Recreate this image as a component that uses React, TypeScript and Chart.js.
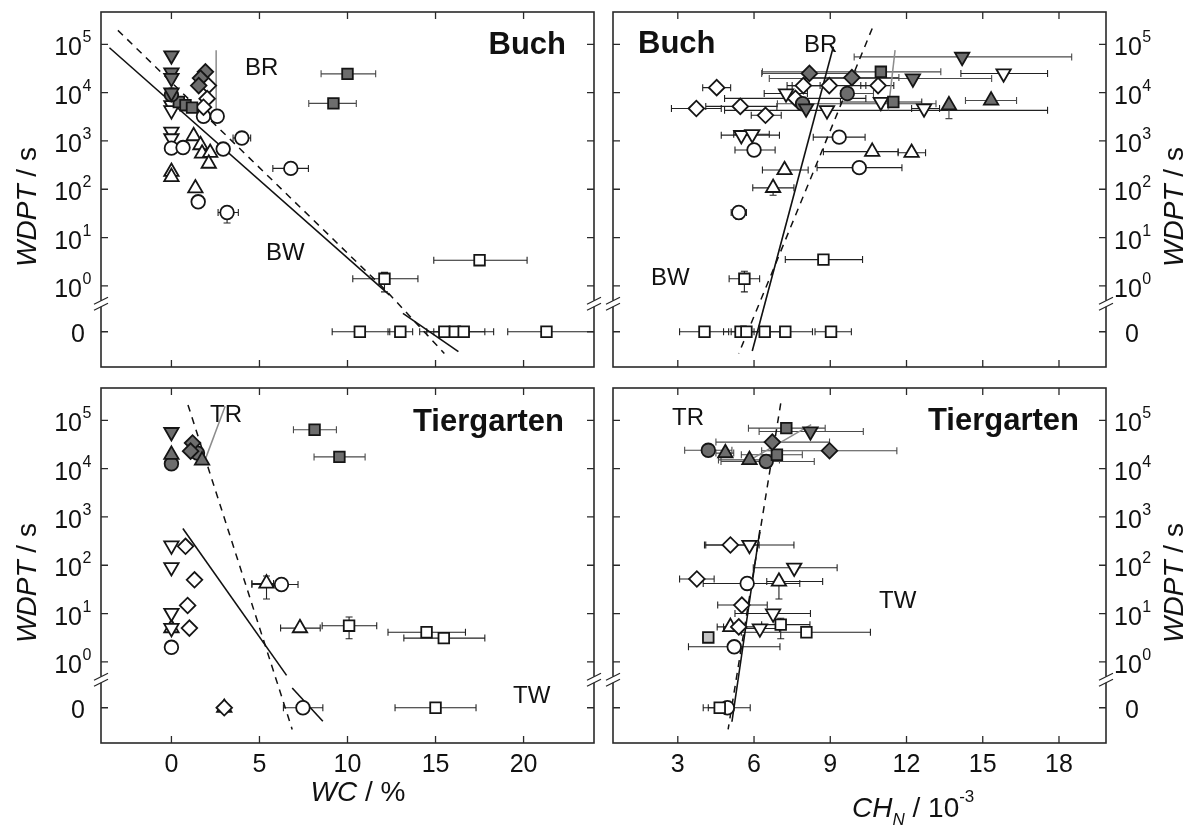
import React, { useEffect, useRef } from "react";
import { Chart, registerables } from "chart.js";
Chart.register(...registerables);

const FONT = '"Liberation Sans", Arial, Helvetica, sans-serif';
const W = 1187;
const H = 825;

// ---- axis layout values (log10 positions, zero row placed below the break) ----
const Y_MIN = -1.68;
const Y_MAX = 5.67;
const ZERO_POS = -0.95;
const BREAK_POS = -0.37;
const DECADES = [0, 1, 2, 3, 4, 5];
const WC_TICKS = [0, 5, 10, 15, 20];
const CH_TICKS = [3, 6, 9, 12, 15, 18];
const WC_RANGE = [-4, 24];
const CH_RANGE = [0.45, 19.85];

type P = (number | null)[]; // [x, WDPT, xLow, xHigh, yLow, yHigh]

// ================= Buch, WC =================
const BUCH_WC_GRAY_DOWN: P[] = [[0, 59000], [0, 26000], [0, 20000], [0, 10000]];
const BUCH_WC_GRAY_SQUARE: P[] = [[10.0, 24500, 8.5, 11.6], [9.2, 6000, 7.8, 10.5], [0.42, 6400], [0.8, 5500], [1.17, 4900]];
const BUCH_WC_GRAY_CIRCLE: P[] = [[0, 9000]];
const BUCH_WC_GRAY_DIAMOND: P[] = [[1.93, 27000], [1.65, 20000], [1.55, 14000]];
const BUCH_WC_OPEN_DIAMOND: P[] = [[2.1, 14000], [2.03, 7500], [1.82, 5000]];
const BUCH_WC_OPEN_DOWN: P[] = [[0, 5500], [0, 4300], [0, 1550], [0, 1130]];
const BUCH_WC_OPEN_UP: P[] = [[1.26, 1260], [1.65, 820], [1.74, 550], [2.2, 570], [2.12, 340], [0, 230], [0, 180], [1.36, 105]];
const BUCH_WC_OPEN_CIRCLE: P[] = [[1.82, 3250], [2.6, 3250], [4.0, 1150, 3.5, 4.5], [2.94, 680], [0, 710, -0.3, 0.35], [0.66, 730, 0.35, 0.95], [6.78, 270, 5.76, 7.78], [1.52, 55], [3.16, 33, 2.65, 3.8, 20, 40]];
const BUCH_WC_OPEN_SQUARE: P[] = [[12.1, 1.4, 10.3, 14.0, 0.75, 1.9], [17.5, 3.4, 14.9, 20.2], [10.7, 0, 9.13, 12.4], [13.0, 0, 12.3, 13.7], [15.5, 0, 14.1, 16.9], [16.1, 0, 14.5, 17.8], [16.6, 0, 14.9, 18.3], [21.3, 0, 19.1, 24.5]];
const BUCH_WC_SOLID = [[[-3.52, 4.93], [12.39, -0.19]], [[13.15, -0.57], [16.3, -1.36]]];
const BUCH_WC_DASHED = [[[-3.04, 5.29], [12.17, -0.09], [15.5, -1.4]]];
const BUCH_WC_LEADER = [[[2.54, 4.88], [2.54, 3.43]]];

// ================= Buch, CH_N =================
const BUCH_CH_GRAY_DOWN: P[] = [[14.19, 55000, 9.94, 18.5], [12.25, 19600, 6.6, 15.35], [8.05, 4700]];
const BUCH_CH_OPEN_DOWN: P[] = [[15.82, 25000, 14.14, 17.55], [7.26, 9600, 6.4, 8.1], [10.99, 6400, 9.4, 12.6], [12.69, 4700, 12.2, 13.3], [8.87, 4300, 4.84, 17.55], [5.5, 1320, 4.71, 7.0], [5.93, 1380, 5.2, 6.6]];
const BUCH_CH_GRAY_SQUARE: P[] = [[10.99, 27000, 6.33, 13.35], [11.48, 6400]];
const BUCH_CH_GRAY_DIAMOND: P[] = [[8.18, 25000, 6.3, 10.0], [9.85, 20500, 8.0, 11.7]];
const BUCH_CH_OPEN_DIAMOND: P[] = [[8.96, 14000, 7.5, 10.4], [7.94, 14000, 7.3, 8.6], [10.88, 14000, 10.2, 11.5], [4.53, 12700, 3.98, 5.08], [7.63, 7600, 4.84, 10.4], [3.73, 4700, 2.75, 4.71], [5.46, 5200, 4.1, 6.9], [6.45, 3400, 5.89, 7.07]];
const BUCH_CH_GRAY_CIRCLE: P[] = [[9.67, 9600, 9.4, 10.7], [7.91, 5900, 6.92, 13.16]];
const BUCH_CH_GRAY_UP: P[] = [[13.67, 5500, null, null, 2900, 5500], [15.33, 6900, 14.32, 16.33]];
const BUCH_CH_OPEN_CIRCLE: P[] = [[6.0, 650, 5.25, 6.83], [9.35, 1200, 8.33, 10.37], [10.14, 280, 8.48, 11.82], [5.4, 33, 5.1, 5.7, 24, 33]];
const BUCH_CH_OPEN_UP: P[] = [[10.65, 600, 8.73, 11.67], [12.2, 570, 11.67, 12.75], [7.2, 250, 6.33, 8.13], [6.75, 107, 5.95, 7.57, 75, 107]];
const BUCH_CH_OPEN_SQUARE: P[] = [[8.73, 3.5, 7.23, 10.27], [5.62, 1.4, 5.02, 6.22, 0.75, 2.0], [4.05, 0, 3.07, 5.0], [5.47, 0, 4.8, 6.0], [5.7, 0, 5.1, 6.4], [6.42, 0, 5.8, 7.2], [7.23, 0, 6.5, 8.3], [9.03, 0, 8.4, 9.83]];
const BUCH_CH_SOLID = [[[9.12, 4.95], [5.93, -1.35]]];
const BUCH_CH_DASHED = [[[10.65, 5.33], [5.4, -1.4]]];
const BUCH_CH_LEADER = [[[11.55, 4.88], [11.28, 3.64]]];

// ================= Tiergarten, WC =================
const TIER_WC_GRAY_SQUARE: P[] = [[8.13, 64000, 6.93, 9.37], [9.54, 17500, 8.1, 11.0]];
const TIER_WC_GRAY_DOWN: P[] = [[0, 57000]];
const TIER_WC_GRAY_UP: P[] = [[0, 19500], [1.74, 14800]];
const TIER_WC_GRAY_CIRCLE: P[] = [[0, 12600], [1.48, 21000]];
const TIER_WC_GRAY_DIAMOND: P[] = [[1.2, 34000], [1.09, 23000]];
const TIER_WC_OPEN_DOWN: P[] = [[0, 255], [0, 91], [0, 10.3], [0, 5.0]];
const TIER_WC_OPEN_UP: P[] = [[0, 5.0], [5.4, 42, 4.57, 5.8, 20, 60], [7.3, 5, 6.2, 8.45], [3.0, 0]];
const TIER_WC_OPEN_DIAMOND: P[] = [[0.8, 247], [1.31, 50], [0.92, 14.7], [1.02, 5.0], [3.0, 0]];
const TIER_WC_OPEN_CIRCLE: P[] = [[0, 2.0], [6.25, 40, 4.57, 7.19], [7.47, 0, 6.36, 8.6]];
const TIER_WC_OPEN_SQUARE: P[] = [[10.09, 5.6, 8.56, 11.66, 3, 8.5], [14.49, 4.1, 12.3, 16.7], [15.47, 3.1, 13.2, 17.8], [15.0, 0, 12.7, 17.3]];
const TIER_WC_SOLID = [[[0.65, 2.76], [6.54, -0.28]], [[6.86, -0.54], [8.6, -1.23]]];
const TIER_WC_DASHED = [[[0.94, 5.32], [6.86, -1.4]]];
const TIER_WC_LEADER = [[[3.05, 5.29], [1.85, 4.12]]];

// ================= Tiergarten, CH_N =================
const TIER_CH_GRAY_SQUARE: P[] = [[7.27, 69000, 5.78, 8.8], [6.9, 19400, 5.5, 7.9]];
const TIER_CH_GRAY_DOWN: P[] = [[8.22, 59000, 6.2, 10.3]];
const TIER_CH_GRAY_DIAMOND: P[] = [[6.72, 35500, 4.5, 8.97], [8.97, 23500, 6.3, 11.62]];
const TIER_CH_GRAY_CIRCLE: P[] = [[4.2, 24000, 3.27, 5.13], [6.48, 14100, 4.7, 8.37]];
const TIER_CH_GRAY_UP: P[] = [[4.87, 21000, 4.5, 5.2], [5.82, 15200, 4.6, 7.0]];
const TIER_CH_OPEN_DIAMOND: P[] = [[5.07, 263, 4.05, 6.2], [3.75, 52, 3.07, 4.43], [5.52, 15, 4.57, 6.52], [5.4, 5.3, 4.8, 6.3]];
const TIER_CH_OPEN_DOWN: P[] = [[5.82, 263, 4.1, 7.57], [7.58, 89, 5.97, 9.27], [6.75, 10, 5.25, 8.22], [6.23, 4.9, 5.5, 7.0]];
const TIER_CH_OPEN_UP: P[] = [[6.98, 46, 6.5, 8.7, 20, 46], [5.07, 5.3, 4.55, 5.6]];
const TIER_CH_OPEN_CIRCLE: P[] = [[5.73, 42, 4.0, 7.8], [5.22, 2.05, 3.42, 7.02], [4.95, 0, 4.2, 5.85]];
const TIER_CH_OPEN_SQUARE: P[] = [[7.05, 5.9, 6.3, 8.2, 3.0, 8.0], [8.06, 4.1, 5.5, 10.58], [4.65, 0, 4.0, 5.2]];
const TIER_CH_LIGHT_SQUARE: P[] = [[4.2, 3.2, 4.0, 4.4]];
const TIER_CH_SOLID = [[[6.23, 2.73], [5.13, -1.24]]];
const TIER_CH_DASHED = [[[7.05, 5.35], [4.98, -1.4]]];
const TIER_CH_LEADER = [[[5.85, 4.18], [8.25, 4.91]]];

const GRAY = "#6d6d6d";
const LIGHT = "#c4c4c4";
const OPEN = "#ffffff";
const INK = "#151515";

type Series = { shape: string; fill: string; pts: P[] };

type Panel = {
  area: number[];
  xRange: number[];
  xTicks: number[];
  xLabels: boolean;
  ySide: "left" | "right";
  title: { text: string; x: number; y: number };
  notes: { text: string; x: number; y: number }[];
  series: Series[];
  solid: number[][][];
  dashed: number[][][];
  leader: number[][][];
  yTitleY: number;
  xTitle?: string;
};

const PANELS: Panel[] = [
  {
    area: [101, 12, 594, 367], xRange: WC_RANGE, xTicks: WC_TICKS, xLabels: false, ySide: "left",
    title: { text: "Buch", x: 566, y: 54 },
    notes: [{ text: "BR", x: 245, y: 75 }, { text: "BW", x: 266, y: 260 }],
    series: [
      { shape: "up", fill: OPEN, pts: BUCH_WC_OPEN_UP },
      { shape: "dn", fill: OPEN, pts: BUCH_WC_OPEN_DOWN },
      { shape: "ci", fill: OPEN, pts: BUCH_WC_OPEN_CIRCLE },
      { shape: "sq", fill: OPEN, pts: BUCH_WC_OPEN_SQUARE },
      { shape: "di", fill: OPEN, pts: BUCH_WC_OPEN_DIAMOND },
      { shape: "sq", fill: GRAY, pts: BUCH_WC_GRAY_SQUARE },
      { shape: "ci", fill: GRAY, pts: BUCH_WC_GRAY_CIRCLE },
      { shape: "dn", fill: GRAY, pts: BUCH_WC_GRAY_DOWN },
      { shape: "di", fill: GRAY, pts: BUCH_WC_GRAY_DIAMOND },
    ],
    solid: BUCH_WC_SOLID, dashed: BUCH_WC_DASHED, leader: BUCH_WC_LEADER, yTitleY: 207,
  },
  {
    area: [613, 12, 1106, 367], xRange: CH_RANGE, xTicks: CH_TICKS, xLabels: false, ySide: "right",
    title: { text: "Buch", x: 638, y: 53 },
    notes: [{ text: "BR", x: 804, y: 52 }, { text: "BW", x: 651, y: 285 }],
    series: [
      { shape: "up", fill: OPEN, pts: BUCH_CH_OPEN_UP },
      { shape: "ci", fill: OPEN, pts: BUCH_CH_OPEN_CIRCLE },
      { shape: "sq", fill: OPEN, pts: BUCH_CH_OPEN_SQUARE },
      { shape: "di", fill: OPEN, pts: BUCH_CH_OPEN_DIAMOND },
      { shape: "dn", fill: OPEN, pts: BUCH_CH_OPEN_DOWN },
      { shape: "sq", fill: GRAY, pts: BUCH_CH_GRAY_SQUARE },
      { shape: "ci", fill: GRAY, pts: BUCH_CH_GRAY_CIRCLE },
      { shape: "up", fill: GRAY, pts: BUCH_CH_GRAY_UP },
      { shape: "di", fill: GRAY, pts: BUCH_CH_GRAY_DIAMOND },
      { shape: "dn", fill: GRAY, pts: BUCH_CH_GRAY_DOWN },
    ],
    solid: BUCH_CH_SOLID, dashed: BUCH_CH_DASHED, leader: BUCH_CH_LEADER, yTitleY: 207,
  },
  {
    area: [101, 388, 594, 743], xRange: WC_RANGE, xTicks: WC_TICKS, xLabels: true, ySide: "left",
    title: { text: "Tiergarten", x: 564, y: 431 },
    notes: [{ text: "TR", x: 210, y: 422 }, { text: "TW", x: 513, y: 703 }],
    series: [
      { shape: "up", fill: OPEN, pts: TIER_WC_OPEN_UP },
      { shape: "dn", fill: OPEN, pts: TIER_WC_OPEN_DOWN },
      { shape: "di", fill: OPEN, pts: TIER_WC_OPEN_DIAMOND },
      { shape: "ci", fill: OPEN, pts: TIER_WC_OPEN_CIRCLE },
      { shape: "sq", fill: OPEN, pts: TIER_WC_OPEN_SQUARE },
      { shape: "sq", fill: GRAY, pts: TIER_WC_GRAY_SQUARE },
      { shape: "ci", fill: GRAY, pts: TIER_WC_GRAY_CIRCLE },
      { shape: "di", fill: GRAY, pts: TIER_WC_GRAY_DIAMOND },
      { shape: "up", fill: GRAY, pts: TIER_WC_GRAY_UP },
      { shape: "dn", fill: GRAY, pts: TIER_WC_GRAY_DOWN },
    ],
    solid: TIER_WC_SOLID, dashed: TIER_WC_DASHED, leader: TIER_WC_LEADER, yTitleY: 583, xTitle: "WC",
  },
  {
    area: [613, 388, 1106, 743], xRange: CH_RANGE, xTicks: CH_TICKS, xLabels: true, ySide: "right",
    title: { text: "Tiergarten", x: 1079, y: 430 },
    notes: [{ text: "TR", x: 672, y: 425 }, { text: "TW", x: 879, y: 608 }],
    series: [
      { shape: "sq", fill: LIGHT, pts: TIER_CH_LIGHT_SQUARE },
      { shape: "ci", fill: OPEN, pts: TIER_CH_OPEN_CIRCLE },
      { shape: "sq", fill: OPEN, pts: TIER_CH_OPEN_SQUARE },
      { shape: "up", fill: OPEN, pts: TIER_CH_OPEN_UP },
      { shape: "di", fill: OPEN, pts: TIER_CH_OPEN_DIAMOND },
      { shape: "dn", fill: OPEN, pts: TIER_CH_OPEN_DOWN },
      { shape: "up", fill: GRAY, pts: TIER_CH_GRAY_UP },
      { shape: "ci", fill: GRAY, pts: TIER_CH_GRAY_CIRCLE },
      { shape: "sq", fill: GRAY, pts: TIER_CH_GRAY_SQUARE },
      { shape: "di", fill: GRAY, pts: TIER_CH_GRAY_DIAMOND },
      { shape: "dn", fill: GRAY, pts: TIER_CH_GRAY_DOWN },
    ],
    solid: TIER_CH_SOLID, dashed: TIER_CH_DASHED, leader: TIER_CH_LEADER, yTitleY: 583, xTitle: "CH",
  },
];

function pos(v: number): number {
  return v > 0 ? Math.log10(v) : ZERO_POS;
}

function shapeProps(shape: string): any {
  switch (shape) {
    case "sq":
      return { pointStyle: "rect", pointRadius: 7.5, pointRotation: 0 };
    case "ci":
      return { pointStyle: "circle", pointRadius: 6.8, pointRotation: 0 };
    case "up":
      return { pointStyle: "triangle", pointRadius: 8.3, pointRotation: 0 };
    case "dn":
      return { pointStyle: "triangle", pointRadius: 8.3, pointRotation: 180 };
    default:
      return { pointStyle: "rectRot", pointRadius: 7.8, pointRotation: 0 };
  }
}

type Seg = { text: string; size: number; italic?: boolean; bold?: boolean; dy?: number };

function fontOf(s: Seg) {
  return `${s.italic ? "italic " : ""}${s.bold ? "bold " : ""}${s.size}px ${FONT}`;
}

function richWidth(ctx: CanvasRenderingContext2D, segs: Seg[]) {
  let w = 0;
  for (const s of segs) {
    ctx.font = fontOf(s);
    w += ctx.measureText(s.text).width;
  }
  return w;
}

function drawRich(ctx: CanvasRenderingContext2D, segs: Seg[], x: number, y: number) {
  let cx = x;
  ctx.textAlign = "left";
  ctx.textBaseline = "alphabetic";
  for (const s of segs) {
    ctx.font = fontOf(s);
    ctx.fillText(s.text, cx, y + (s.dy || 0));
    cx += ctx.measureText(s.text).width;
  }
}

function makeDeco(panel: Panel) {
  return {
    id: "deco",
    beforeDatasetsDraw(chart: any) {
      const ctx: CanvasRenderingContext2D = chart.ctx;
      const xs = chart.scales.x;
      const ys = chart.scales.y;
      const a = chart.chartArea;
      ctx.save();
      ctx.beginPath();
      ctx.rect(a.left, a.top, a.right - a.left, a.bottom - a.top);
      ctx.clip();
      ctx.lineWidth = 1.1;
      chart.data.datasets.forEach((ds: any) => {
        if (!ds.errs) return;
        ctx.strokeStyle = ds.errColor;
        for (const p of ds.errs as P[]) {
          const py = ys.getPixelForValue(pos(p[1] as number));
          const px = xs.getPixelForValue(p[0] as number);
          ctx.beginPath();
          if (p[2] != null && p[3] != null) {
            const x1 = xs.getPixelForValue(p[2]);
            const x2 = xs.getPixelForValue(p[3]);
            ctx.moveTo(x1, py); ctx.lineTo(x2, py);
            ctx.moveTo(x1, py - 3.5); ctx.lineTo(x1, py + 3.5);
            ctx.moveTo(x2, py - 3.5); ctx.lineTo(x2, py + 3.5);
          }
          if (p[4] != null && p[5] != null) {
            const y1 = ys.getPixelForValue(pos(p[4]));
            const y2 = ys.getPixelForValue(pos(p[5]));
            ctx.moveTo(px, y1); ctx.lineTo(px, y2);
            ctx.moveTo(px - 3.5, y1); ctx.lineTo(px + 3.5, y1);
            ctx.moveTo(px - 3.5, y2); ctx.lineTo(px + 3.5, y2);
          }
          ctx.stroke();
        }
      });
      ctx.restore();
    },
    afterDraw(chart: any) {
      const ctx: CanvasRenderingContext2D = chart.ctx;
      const xs = chart.scales.x;
      const ys = chart.scales.y;
      const a = chart.chartArea;
      ctx.save();
      // frame
      ctx.strokeStyle = "#2a2a2a";
      ctx.lineWidth = 1.6;
      ctx.strokeRect(a.left, a.top, a.right - a.left, a.bottom - a.top);
      // inward ticks on all sides
      ctx.lineWidth = 1.3;
      ctx.beginPath();
      for (const v of panel.xTicks) {
        const px = xs.getPixelForValue(v);
        ctx.moveTo(px, a.bottom); ctx.lineTo(px, a.bottom - 7);
        ctx.moveTo(px, a.top); ctx.lineTo(px, a.top + 7);
      }
      const yTickVals = [...DECADES, ZERO_POS];
      for (const v of yTickVals) {
        const py = ys.getPixelForValue(v);
        ctx.moveTo(a.left, py); ctx.lineTo(a.left + 7, py);
        ctx.moveTo(a.right, py); ctx.lineTo(a.right - 7, py);
      }
      ctx.stroke();
      // axis break marks
      const by = ys.getPixelForValue(BREAK_POS);
      for (const bx of [a.left, a.right]) {
        ctx.fillStyle = "#ffffff";
        ctx.fillRect(bx - 2, by - 3, 4, 6);
        ctx.strokeStyle = "#2a2a2a";
        ctx.lineWidth = 1.3;
        ctx.beginPath();
        for (const o of [-3, 3]) {
          ctx.moveTo(bx - 7, by + o + 3.5);
          ctx.lineTo(bx + 7, by + o - 3.5);
        }
        ctx.stroke();
      }
      ctx.fillStyle = "#111";
      // y tick labels
      for (const d of DECADES) {
        const py = ys.getPixelForValue(d);
        ctx.textBaseline = "alphabetic";
        if (panel.ySide === "left") {
          ctx.font = `25px ${FONT}`;
          ctx.textAlign = "right";
          ctx.fillText("10", a.left - 19, py + 11);
          ctx.font = `16px ${FONT}`;
          ctx.textAlign = "left";
          ctx.fillText(String(d), a.left - 18.5, py - 2);
        } else {
          ctx.font = `25px ${FONT}`;
          ctx.textAlign = "left";
          const x0 = a.right + 8;
          ctx.fillText("10", x0, py + 11);
          const w10 = ctx.measureText("10").width;
          ctx.font = `16px ${FONT}`;
          ctx.fillText(String(d), x0 + w10 + 0.5, py - 2);
        }
      }
      {
        const py = ys.getPixelForValue(ZERO_POS);
        ctx.font = `25px ${FONT}`;
        ctx.textAlign = "center";
        ctx.fillText("0", panel.ySide === "left" ? a.left - 23 : a.right + 26, py + 10);
      }
      // x tick labels
      if (panel.xLabels) {
        ctx.font = `25px ${FONT}`;
        ctx.textAlign = "center";
        for (const v of panel.xTicks) {
          const px = xs.getPixelForValue(v);
          ctx.fillText(String(v), px, a.bottom + 29);
        }
      }
      // y axis title (rotated)
      {
        const segs: Seg[] = [
          { text: "WDPT", size: 28, italic: true },
          { text: " / s", size: 28 },
        ];
        const tw = richWidth(ctx, segs);
        const cx = panel.ySide === "left" ? 26 : 1173;
        ctx.save();
        ctx.translate(cx, panel.yTitleY);
        ctx.rotate(-Math.PI / 2);
        drawRich(ctx, segs, -tw / 2, 10);
        ctx.restore();
      }
      // x axis title
      if (panel.xTitle === "WC") {
        const segs: Seg[] = [
          { text: "WC", size: 28, italic: true },
          { text: " / %", size: 28 },
        ];
        const tw = richWidth(ctx, segs);
        drawRich(ctx, segs, 358 - tw / 2, 801);
      } else if (panel.xTitle === "CH") {
        const segs: Seg[] = [
          { text: "CH", size: 28, italic: true },
          { text: "N", size: 17, italic: true, dy: 8 },
          { text: " / 10", size: 28 },
          { text: "-3", size: 17, dy: -15 },
        ];
        drawRich(ctx, segs, 852, 817);
      }
      // panel title
      ctx.font = `bold 31px ${FONT}`;
      ctx.textBaseline = "alphabetic";
      if (panel.ySide === "left") {
        ctx.textAlign = "right";
      } else {
        ctx.textAlign = panel.title.text === "Buch" ? "left" : "right";
      }
      ctx.fillText(panel.title.text, panel.title.x, panel.title.y);
      // region notes
      ctx.font = `24px ${FONT}`;
      ctx.textAlign = "left";
      for (const n of panel.notes) ctx.fillText(n.text, n.x, n.y);
      ctx.restore();
    },
  };
}

function buildConfig(panel: Panel): any {
  const datasets: any[] = [];
  for (const seg of panel.leader) {
    datasets.push({
      type: "line", data: seg.map((p) => ({ x: p[0], y: p[1] })), borderColor: "#8c8c8c",
      borderWidth: 1.5, pointRadius: 0, fill: false, tension: 0, showLine: true, order: 5,
    });
  }
  for (const seg of panel.dashed) {
    datasets.push({
      type: "line", data: seg.map((p) => ({ x: p[0], y: p[1] })), borderColor: "#111",
      borderWidth: 1.5, borderDash: [7, 6], pointRadius: 0, fill: false, tension: 0, showLine: true, order: 6,
    });
  }
  for (const seg of panel.solid) {
    datasets.push({
      type: "line", data: seg.map((p) => ({ x: p[0], y: p[1] })), borderColor: "#111",
      borderWidth: 1.6, pointRadius: 0, fill: false, tension: 0, showLine: true, order: 6,
    });
  }
  panel.series.forEach((s, i) => {
    datasets.push({
      type: "scatter",
      data: s.pts.map((p) => ({ x: p[0] as number, y: pos(p[1] as number) })),
      ...shapeProps(s.shape),
      backgroundColor: s.fill,
      borderColor: INK,
      borderWidth: 1.8,
      errs: s.pts,
      errColor: s.fill === GRAY ? "#4a4a4a" : "#222",
      order: 1 - i * 0.01,
    });
  });
  const [l, t, r, b] = panel.area;
  return {
    type: "scatter",
    data: { datasets },
    options: {
      responsive: false,
      maintainAspectRatio: false,
      animation: false,
      events: [],
      layout: { padding: { left: l, top: t, right: W - r, bottom: H - b } },
      plugins: { legend: { display: false }, tooltip: { enabled: false }, title: { display: false } },
      scales: {
        x: { type: "linear", min: panel.xRange[0], max: panel.xRange[1], display: false },
        y: { type: "linear", min: Y_MIN, max: Y_MAX, display: false },
      },
    },
    plugins: [makeDeco(panel)],
  };
}

function PanelCanvas({ panel }: { panel: Panel }) {
  const ref = useRef<HTMLCanvasElement | null>(null);
  useEffect(() => {
    if (!ref.current) return;
    const chart = new Chart(ref.current, buildConfig(panel));
    return () => chart.destroy();
  }, [panel]);
  return (
    <canvas
      ref={ref}
      width={W}
      height={H}
      style={{ position: "absolute", left: 0, top: 0, width: W, height: H }}
    />
  );
}

export default function App() {
  return (
    <div style={{ position: "fixed", left: 0, top: 0, width: W, height: H, background: "#ffffff", overflow: "hidden" }}>
      {PANELS.map((p, i) => (
        <PanelCanvas key={i} panel={p} />
      ))}
    </div>
  );
}
